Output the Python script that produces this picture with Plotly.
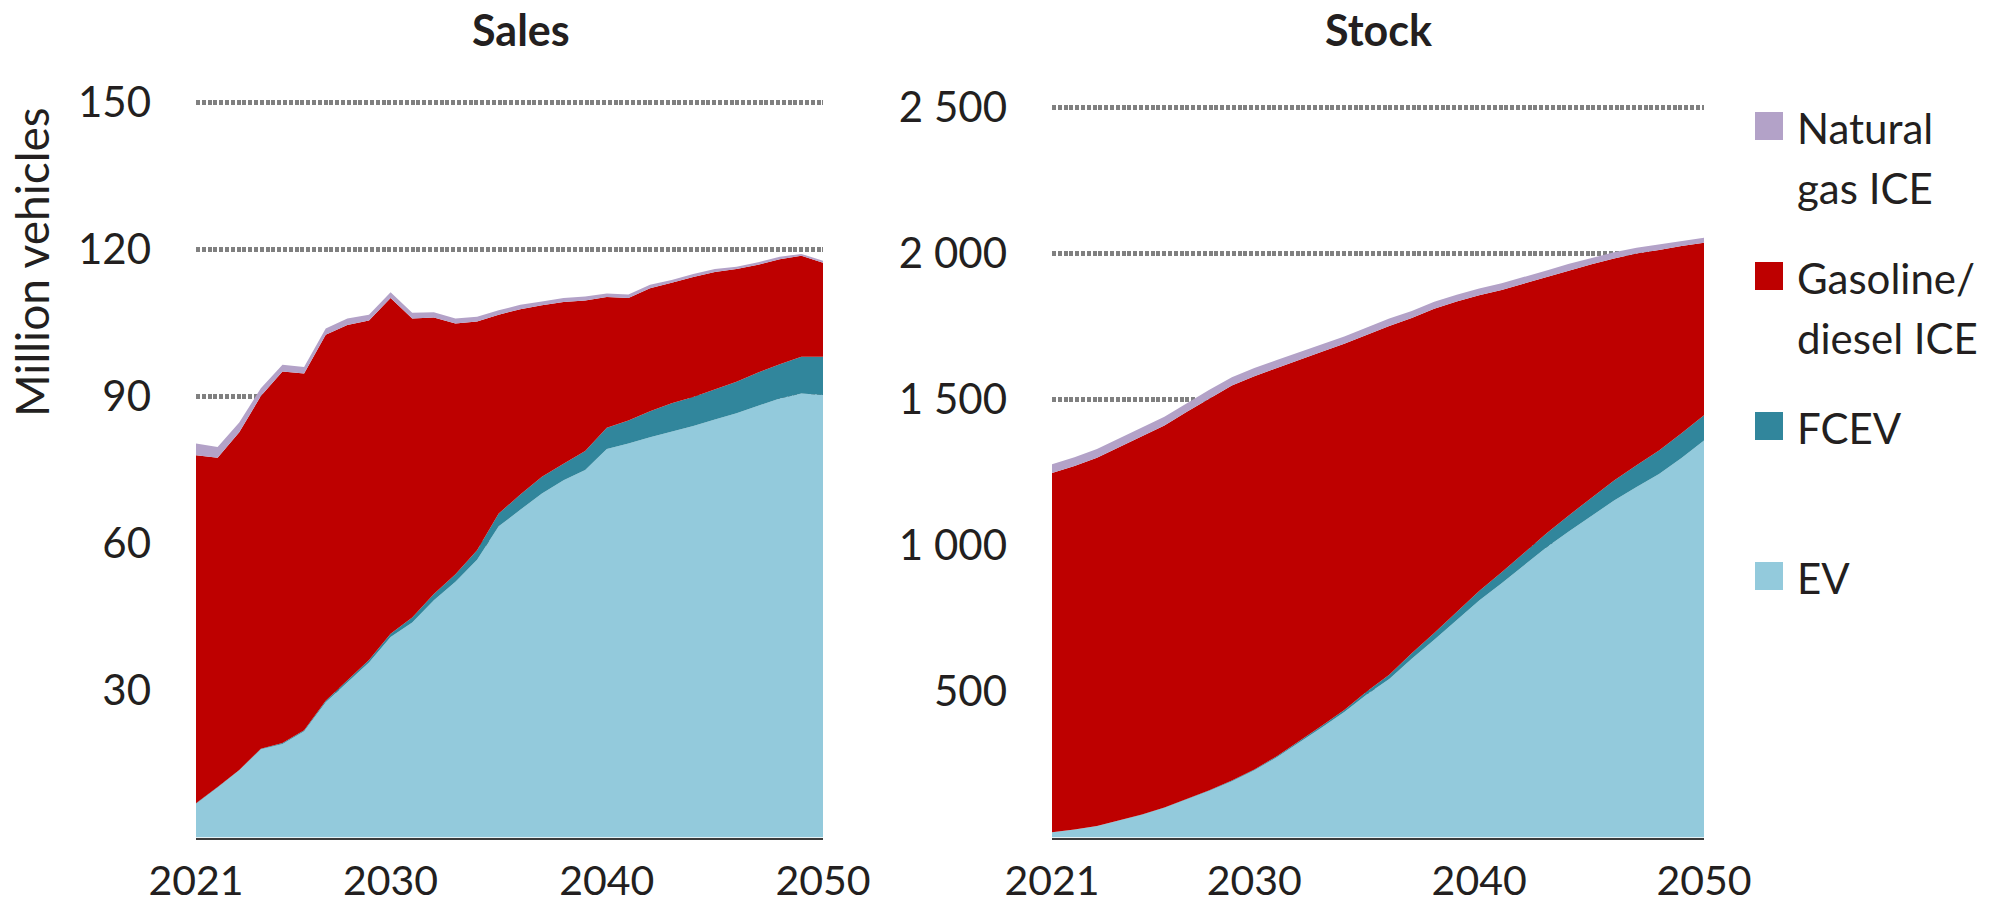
import plotly.graph_objects as go

years = list(range(2021, 2051))

# Sales (million vehicles)
sales_ev = [6.9, 10.2, 13.7, 18.0, 19.1, 21.7, 27.6, 31.7, 35.7, 40.9,
            43.9, 48.4, 52.2, 56.7, 63.5, 66.9, 70.2, 72.9, 75.0, 79.3,
            80.4, 81.7, 82.8, 84.0, 85.3, 86.6, 88.1, 89.6, 90.6, 90.3]
sales_fcev = [0.1, 0.1, 0.1, 0.1, 0.2, 0.2, 0.3, 0.4, 0.5, 0.7,
              1.0, 1.3, 1.5, 1.9, 2.6, 3.1, 3.4, 3.4, 3.9, 4.3,
              4.7, 5.3, 5.8, 5.9, 6.2, 6.4, 6.8, 7.0, 7.5, 7.8]
sales_gasoline = [71.0, 67.2, 68.9, 72.0, 75.8, 72.8, 74.7, 72.5, 69.3, 68.5,
                  61.0, 56.4, 51.2, 46.7, 40.6, 37.8, 35.0, 33.0, 30.7, 26.7,
                  25.0, 25.1, 24.6, 24.5, 23.9, 23.0, 22.0, 21.4, 20.6, 19.2]
sales_natgas = [2.4, 2.2, 2.0, 1.6, 1.4, 1.3, 1.3, 1.3, 1.2, 1.2,
                1.2, 1.1, 1.0, 1.0, 0.9, 0.9, 0.8, 0.8, 0.8, 0.7,
                0.7, 0.7, 0.6, 0.6, 0.6, 0.5, 0.5, 0.5, 0.4, 0.4]

# Stock (million vehicles)
stock_ev = [18, 27, 39, 58, 78, 102, 130, 160, 193, 230,
            275, 325, 377, 430, 490, 543, 612, 677, 745, 812,
            871, 932, 994, 1049, 1103, 1154, 1200, 1245, 1300, 1360]
stock_fcev = [0.2, 0.3, 0.4, 0.6, 0.8, 1, 1.3, 1.7, 2.2, 2.8,
              3.5, 4.3, 5.5, 7, 10, 14, 19, 23, 27, 32,
              37, 42, 48, 55, 62, 69, 75, 80, 84, 86]
stock_gasoline = [1230, 1245, 1261, 1279, 1296, 1308, 1327, 1343, 1353, 1347,
                  1330, 1307, 1281, 1254, 1222, 1195, 1148, 1111, 1064, 1013,
                  967, 923, 878, 839, 798, 760, 725, 687, 642, 591]
stock_natgas = [30, 30, 30, 30, 30, 30, 29, 29, 28, 28,
                27, 26, 25, 25, 25, 25, 24, 24, 23, 23,
                23, 22, 22, 22, 21, 21, 20, 19, 18, 17]

series_names = ["EV", "FCEV", "Gasoline/diesel ICE", "Natural gas ICE"]
series_colors = ["#93CADC", "#31869C", "#BE0000", "#B3A2C8"]
legend_lines = [["Natural", "gas ICE"], ["Gasoline/", "diesel ICE"], ["FCEV"], ["EV"]]
legend_colors = ["#B3A2C8", "#BE0000", "#31869C", "#93CADC"]

x_ticks = [2021, 2030, 2040, 2050]
sales_ticks = [30, 60, 90, 120, 150]
stock_ticks = [500, 1000, 1500, 2000, 2500]
stock_ticktext = ["500", "1 000", "1 500", "2 000", "2 500"]

W, H = 2011, 907
FONT = "Lato"
TXT = "#231F20"


def px(x):
    return x / W


def py(y):
    return 1 - y / H


fig = go.Figure()

sales_data = [sales_ev, sales_fcev, sales_gasoline, sales_natgas]
stock_data = [stock_ev, stock_fcev, stock_gasoline, stock_natgas]
for name, col, vals in zip(series_names, series_colors, sales_data):
    fig.add_trace(go.Scatter(x=years, y=vals, name=name, stackgroup="sales",
                             mode="lines", line=dict(width=0, color=col),
                             fillcolor=col, xaxis="x", yaxis="y",
                             showlegend=False, hoverinfo="skip"))
for name, col, vals in zip(series_names, series_colors, stock_data):
    fig.add_trace(go.Scatter(x=years, y=vals, name=name, stackgroup="stock",
                             mode="lines", line=dict(width=0, color=col),
                             fillcolor=col, xaxis="x2", yaxis="y2",
                             showlegend=False, hoverinfo="skip"))

y_dom = [py(837.5), py(98)]
common_x = dict(range=[2021, 2050], tickvals=x_ticks, showgrid=False,
                zeroline=False, showline=True, linecolor="#3C3C3C", linewidth=2,
                ticks="", tickfont=dict(family=FONT, size=41, color=TXT),
                ticklabelstandoff=6, fixedrange=True, automargin=False)
common_y = dict(showgrid=True, gridcolor="#808080", gridwidth=4.5,
                griddash="4px,1.8px", zeroline=False, showline=False, ticks="",
                tickfont=dict(family=FONT, size=42, color=TXT),
                ticklabelstandoff=44, fixedrange=True, automargin=False)

fig.update_layout(
    width=W, height=H, autosize=False,
    margin=dict(l=0, r=0, t=0, b=0, pad=0),
    paper_bgcolor="white", plot_bgcolor="white",
    showlegend=False,
    xaxis=dict(domain=[px(196), px(823)], anchor="y", **common_x),
    yaxis=dict(domain=y_dom, anchor="x", range=[0, (837.5 - 98) / 4.9],
               tickvals=sales_ticks, **common_y),
    xaxis2=dict(domain=[px(1052), px(1704)], anchor="y2", **common_x),
    yaxis2=dict(domain=y_dom, anchor="x2", range=[0, (837.5 - 98) / 0.292],
                tickvals=stock_ticks, ticktext=stock_ticktext, **common_y),
)

annotations = [
    dict(text="<b>Sales</b>", x=px(521), y=py(30), xref="paper", yref="paper",
         showarrow=False, xanchor="center", yanchor="middle",
         font=dict(family=FONT, size=43, color=TXT)),
    dict(text="<b>Stock</b>", x=px(1378), y=py(30), xref="paper", yref="paper",
         showarrow=False, xanchor="center", yanchor="middle",
         font=dict(family=FONT, size=43, color=TXT)),
    dict(text="Million vehicles", x=px(32), y=py(262), xref="paper", yref="paper",
         showarrow=False, xanchor="center", yanchor="middle", textangle=-90,
         font=dict(family=FONT, size=46, color=TXT)),
]

shapes = []
square_centers = [126, 276, 426, 576]
for lines, col, cy in zip(legend_lines, legend_colors, square_centers):
    shapes.append(dict(type="rect", xref="paper", yref="paper",
                       x0=px(1755), x1=px(1783), y0=py(cy + 14), y1=py(cy - 14),
                       fillcolor=col, line=dict(width=0)))
    for i, line in enumerate(lines):
        annotations.append(dict(text=line, x=px(1795), y=py(cy + 2 + 60 * i),
                                xref="paper", yref="paper", showarrow=False,
                                xanchor="left", yanchor="middle",
                                font=dict(family=FONT, size=42, color=TXT)))

fig.update_layout(annotations=annotations, shapes=shapes)

post = ("document.documentElement.style.margin='0';"
        "document.body.style.margin='0';document.body.style.padding='0';"
        "document.body.style.overflow='hidden';")
fig.write_html("out.html", post_script=post,
               config={"responsive": False, "displayModeBar": False,
                       "staticPlot": True})
